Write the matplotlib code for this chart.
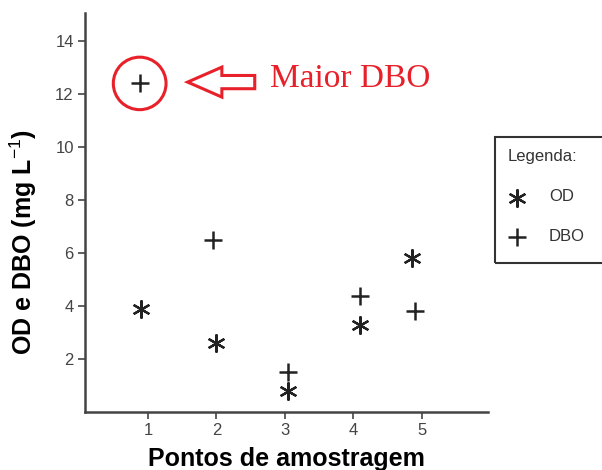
import matplotlib.pyplot as plt
from matplotlib.patches import Ellipse, FancyArrow, Rectangle
from matplotlib.lines import Line2D
import numpy as np

plt.rcParams['font.family'] = ['Liberation Sans', 'DejaVu Sans']
plt.rcParams['mathtext.fontset'] = 'custom'
plt.rcParams['mathtext.rm'] = 'Liberation Sans'
plt.rcParams['mathtext.it'] = 'Liberation Sans'

# pontos de amostragem
x_od = [0.9, 2.0, 3.05, 4.1, 4.85]
y_od = [3.9, 2.6, 0.8, 3.3, 5.8]
x_dbo = [0.88, 1.95, 3.05, 4.1, 4.9]
y_dbo = [12.4, 6.5, 1.5, 4.4, 3.8]
xticks = [1, 2, 3, 4, 5]
yticks = [2, 4, 6, 8, 10, 12, 14]

cor = "#222"
vermelho = "#e8202a"

fig = plt.figure(figsize=(6.02, 4.70), dpi=100)
ax = fig.add_axes([0.141, 0.123, 0.669, 0.849])

ast = dict(ls="none", marker=(6, 2, 0), ms=13, mew=1.6, color=cor)
mais = dict(ls="none", marker="+", ms=13, mew=1.8, color=cor)
ax.plot(x_od, y_od, **ast)
ax.plot(x_dbo, y_dbo, **mais)

ax.set_xlim(0.08, 5.96)
ax.set_ylim(0, 15.05)
ax.set_xticks(xticks)
ax.set_yticks(yticks)
for s in ["top", "right"]:
    ax.spines[s].set_visible(False)
for s in ["left", "bottom"]:
    ax.spines[s].set_color("#444")
    ax.spines[s].set_linewidth(1.8)
ax.tick_params(length=5, width=1.2, color="#444", labelcolor="#444", labelsize=12, pad=3)

ax.set_xlabel("Pontos de amostragem", fontsize=18, fontweight="bold", labelpad=6)
ax.set_ylabel("OD e DBO (mg L$^{\\mathrm{-1}}$)", fontsize=18, fontweight="bold")
ax.yaxis.set_label_coords(-0.115, 0.426)

# destaque no maior DBO
i = int(np.argmax(y_dbo))
cx, cy = x_dbo[i], y_dbo[i]
ax.add_patch(Ellipse((cx, cy), 0.77, 1.98, fill=False, ec=vermelho, lw=2.2, clip_on=False))
ax.add_patch(FancyArrow(cx + 1.68, cy + 0.05, -0.98, 0, width=0.5, head_width=1.13,
                        head_length=0.5, length_includes_head=True, fill=False,
                        ec=vermelho, lw=2.2, clip_on=False))
ax.text(cx + 1.9, cy + 0.17, "Maior DBO", color=vermelho, fontsize=24,
        family=["Liberation Serif", "DejaVu Serif"], va="center")

# legenda desenhada a mao
fig.add_artist(Rectangle((0.822, 0.440), 0.2, 0.268, transform=fig.transFigure,
                         fill=False, ec="#333", lw=1.5))
fig.text(0.844, 0.666, "Legenda:", fontsize=12, color="#333", va="center")
fig.add_artist(Line2D([0.859], [0.579], transform=fig.transFigure, **ast))
fig.add_artist(Line2D([0.859], [0.496], transform=fig.transFigure, **mais))
fig.text(0.912, 0.581, "OD", fontsize=12, color="#333", va="center")
fig.text(0.912, 0.496, "DBO", fontsize=12, color="#333", va="center")

fig.savefig("out.png", dpi=100)
